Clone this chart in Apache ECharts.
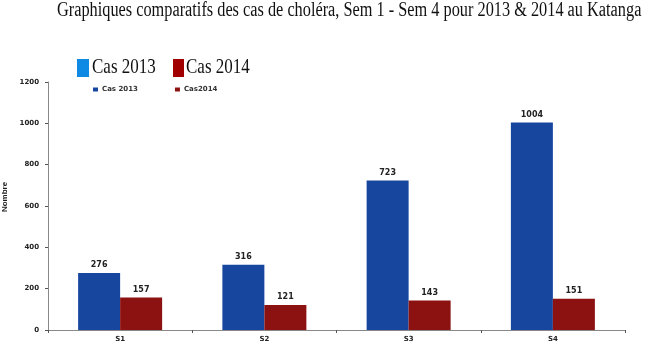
<!DOCTYPE html>
<html><head><meta charset="utf-8">
<script src="https://cdn.jsdelivr.net/npm/echarts@6/dist/echarts.min.js"></script>
<style>html,body{margin:0;padding:0;background:#fff}#c{width:650px;height:347px}</style>
</head><body><div id="c"></div>
<script>
const categories = ['S1', 'S2', 'S3', 'S4'];
const seriesNames = ['Cas 2013', 'Cas2014'];
const bigLegendLabels = ['Cas 2013', 'Cas 2014'];
const cas2013 = [276, 316, 723, 1004];
const cas2014 = [157, 121, 143, 151];
const yTicks = [0, 200, 400, 600, 800, 1000, 1200];
const titleText = 'Graphiques comparatifs des cas de choléra, Sem 1 - Sem 4 pour 2013 & 2014 au Katanga';

const chart = echarts.init(document.getElementById('c'));
const lbl = {show: true, position: 'top', fontFamily: 'DejaVu Sans', fontWeight: 'bold', fontSize: 8, color: '#222', distance: 4};
const serifFont = '20px "Liberation Serif"';
chart.setOption({
  animation: false,
  backgroundColor: '#fff',
  graphic: [
    {type: 'text', x: 57, y: 1, scaleX: 0.815,
     style: {text: titleText, font: serifFont, fill: '#111', textVerticalAlign: 'top'}},
    {type: 'rect', shape: {x: 77, y: 59, width: 12, height: 18}, style: {fill: '#0e89e4'}},
    {type: 'text', x: 92, y: 57, scaleX: 0.81,
     style: {text: bigLegendLabels[0], font: '21px "Liberation Serif"', fill: '#111', textVerticalAlign: 'top'}},
    {type: 'rect', shape: {x: 173, y: 59, width: 11, height: 18}, style: {fill: '#a00000'}},
    {type: 'text', x: 186, y: 57, scaleX: 0.81,
     style: {text: bigLegendLabels[1], font: '21px "Liberation Serif"', fill: '#111', textVerticalAlign: 'top'}}
  ],
  legend: {
    top: 86, left: 93, padding: 0, itemWidth: 5, itemHeight: 4, itemGap: 37,
    textStyle: {fontFamily: 'DejaVu Sans', fontWeight: 'bold', fontSize: 7, color: '#333', padding: [0,0,0,-1]},
    data: seriesNames.map(n => ({name: n, icon: 'rect'}))
  },
  grid: {left: 48, right: 25, top: 82, bottom: 17, outerBoundsMode: 'none', containLabel: false},
  xAxis: {
    type: 'category', data: categories,
    axisLine: {lineStyle: {color: '#888'}},
    axisTick: {show: true, length: 3, lineStyle: {color: '#555'}},
    axisLabel: {fontFamily: 'DejaVu Sans', fontWeight: 'bold', fontSize: 7, color: '#222', margin: 6}
  },
  yAxis: {
    type: 'value', min: 0, max: 1200, interval: 200,
    name: 'Nombre', nameLocation: 'middle', nameGap: 30, nameRotate: 90,
    nameTextStyle: {fontFamily: 'Liberation Sans Narrow, Liberation Sans', fontWeight: 'bold', fontSize: 8, color: '#222', padding: [0,0,0,18]},
    axisLine: {show: true, lineStyle: {color: '#888'}},
    axisTick: {show: true, length: 3, lineStyle: {color: '#555'}},
    splitLine: {show: false},
    axisLabel: {fontFamily: 'DejaVu Sans', fontWeight: 'bold', fontSize: 7, color: '#222', margin: 9,
      formatter: v => yTicks.includes(v) ? String(v) : ''}
  },
  series: [
    {name: seriesNames[0], type: 'bar', data: cas2013, barWidth: 42, barGap: '0%', itemStyle: {color: '#16469e'}, label: lbl},
    {name: seriesNames[1], type: 'bar', data: cas2014, barWidth: 42, barGap: '0%', itemStyle: {color: '#8c1111'}, label: lbl}
  ]
});
</script></body></html>
